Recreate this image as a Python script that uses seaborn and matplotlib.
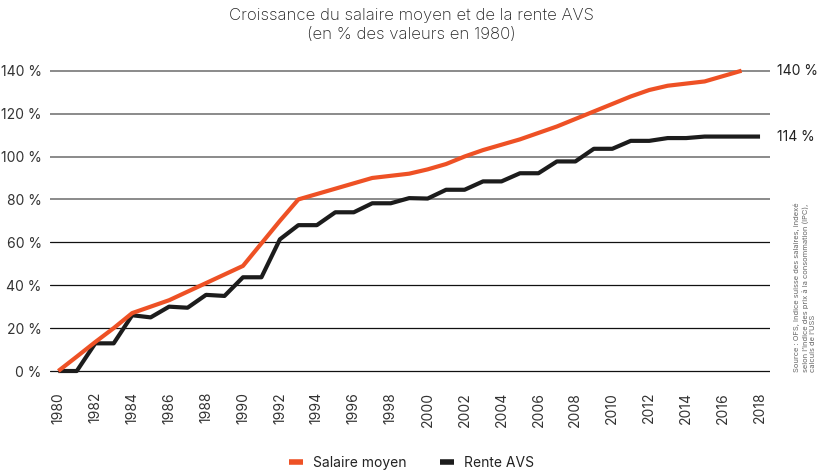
import matplotlib
matplotlib.use("Agg")
import matplotlib.pyplot as plt
import matplotlib.transforms as mtransforms
from matplotlib.lines import Line2D
import numpy as np
import pandas as pd
import seaborn as sns

years = list(range(1980, 2019))
salaire = [0, 6.7, 13.5, 20, 27, 30, 33, 37, 41, 45, 49, 59.5, 70, 80,
           82.5, 85, 87.5, 90, 91, 92, 94, 96.5, 100, 103, 105.5, 108, 111, 114,
           117.5, 121, 124.5, 128, 131, 133, 134, 135, 137.5, 140, None]
rente = [0, 0, 12.9, 12.9, 26, 25, 30, 29.5, 35.5, 35,
         43.7, 43.7, 61.4, 68, 68, 74, 74, 78.2, 78.2, 80.6,
         80.4, 84.5, 84.5, 88.4, 88.4, 92.2, 92.2, 97.7, 97.7, 103.6,
         103.6, 107.3, 107.3, 108.6, 108.6, 109.3, 109.3, 109.3, 109.3]
series_names = ["Salaire moyen", "Rente AVS"]
colors = ["#ee5125", "#1c1c1c"]
y_ticks = [0, 20, 40, 60, 80, 100, 120, 140]
x_ticks = list(range(1980, 2019, 2))
end_labels = ["140 %", "114 %"]
title = "Croissance du salaire moyen et de la rente AVS\n(en % des valeurs en 1980)"
source = ("Source : OFS, Indice suisse des salaires, indexé\n"
          "selon l’indice des prix à la consommation (IPC),\n"
          "calculs de l’USS")

df = pd.concat([
    pd.DataFrame({"Année": years, "Valeur": salaire, "Série": series_names[0]}),
    pd.DataFrame({"Année": years, "Valeur": rente, "Série": series_names[1]}),
]).dropna()

sns.set_theme(style="white")
plt.rcParams["font.family"] = ["Inter", "DejaVu Sans"]

fig = plt.figure(figsize=(8.28, 4.75), dpi=100)
ax = fig.add_axes([50/828, 0.2099, 720/828, 0.6638])

sns.lineplot(data=df, x="Année", y="Valeur", hue="Série", hue_order=series_names,
             palette=colors, linewidth=3.0, ax=ax, legend=False)
for ln, z in zip(ax.get_lines(), [4, 3]):
    ln.set_zorder(z)
    ln.set_solid_capstyle("butt")

ax.set_xlim(1979.55, 2018.54)
ax.set_ylim(-2, 145)
ax.set_yticks(y_ticks)
ax.set_yticklabels([f"{v} %" for v in y_ticks])
ax.set_xticks(x_ticks)
ax.set_xticklabels([str(v) for v in x_ticks], rotation=90)
ax.tick_params(axis="y", length=0, pad=6, labelsize=10, labelcolor="#333333")
ax.tick_params(axis="x", length=0, pad=12, labelsize=10, labelcolor="#333333")
ax.set_xlabel("")
ax.set_ylabel("")
for s in ax.spines.values():
    s.set_visible(False)

ax.yaxis.grid(True)
ax.xaxis.grid(False)
for v, gl in zip(y_ticks, ax.get_ygridlines()):
    if v >= 80:
        gl.set_color("#8a8a8a"); gl.set_linewidth(1.4)
    else:
        gl.set_color("#111111"); gl.set_linewidth(0.9)
ax.set_axisbelow(True)

trans = mtransforms.blended_transform_factory(ax.transAxes, ax.transData)
ax.text(1.0 + 7/720, salaire[-2], end_labels[0], transform=trans, ha="left",
        va="center", fontsize=10, color="#222222")
ax.text(1.0 + 7/720, rente[-1], end_labels[1], transform=trans, ha="left",
        va="center", fontsize=10, color="#222222")

fig.text(0.497, 1 - 25/475, title, ha="center", va="center", fontsize=12.1,
         color="#222222", linespacing=1.35, fontweight="light")

fig.text(794/828, (475-372)/475, source, rotation=90, rotation_mode="anchor",
         ha="left", va="top", fontsize=5.4, color="#666666", linespacing=1.25)

handles = [Line2D([0], [0], color=c, lw=4, solid_capstyle="butt") for c in colors]
fig.legend(handles, series_names, loc="center", bbox_to_anchor=(0.497, 0.025),
           ncol=2, frameon=False, handlelength=1.0, handletextpad=0.7,
           columnspacing=2.4, fontsize=10, labelcolor="#222222")

fig.savefig("out.png", dpi=100)
